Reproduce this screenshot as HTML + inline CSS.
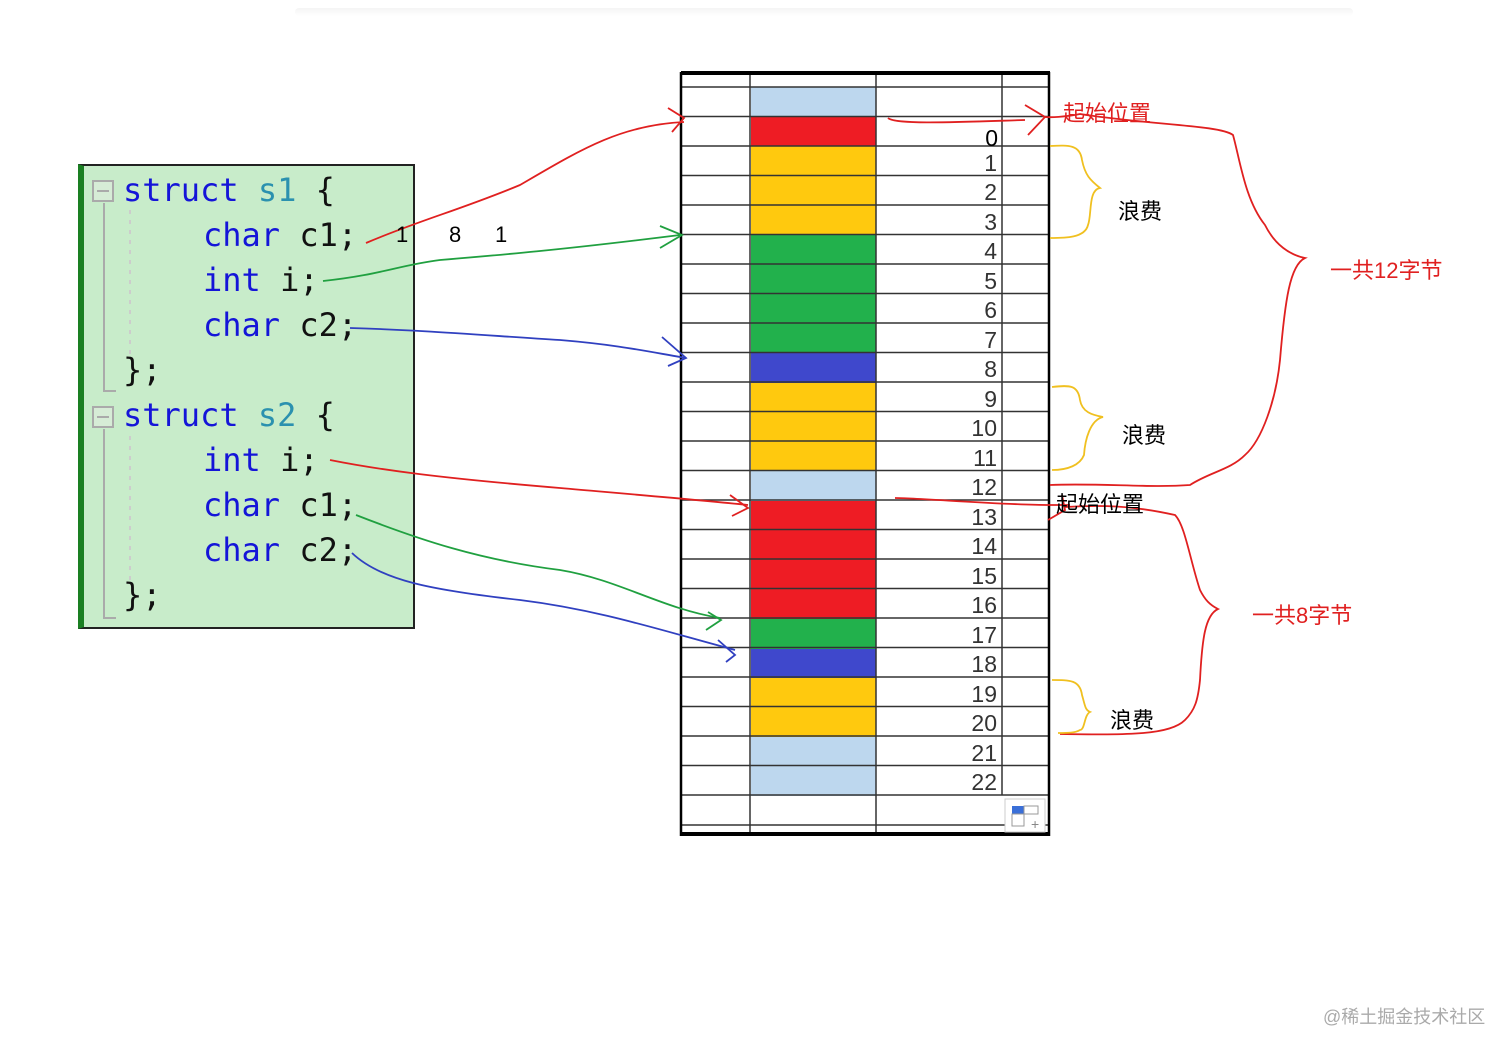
<!DOCTYPE html>
<html><head><meta charset="utf-8"><style>
body{margin:0;width:1512px;height:1052px;background:#fff;position:relative;overflow:hidden;font-family:"Liberation Sans","Noto Sans CJK SC",sans-serif}
.code{position:absolute;left:78px;top:164px;width:329px;height:461px;background:#c8ecca;border:2px solid #222;border-left:6px solid #1a7f22}
.ln{position:absolute;font-family:"DejaVu Sans Mono","Liberation Mono",monospace;font-size:32px;line-height:40px;color:#111;white-space:pre}
.k{color:#1515d8}.t{color:#2b91af}
</style></head><body>
<div style="position:absolute;left:295px;top:8px;width:1058px;height:8px;background:linear-gradient(#f4f4f4,#fff);border-radius:4px"></div>
<div class="code"></div>
<svg width="1512" height="1052" style="position:absolute;left:0;top:0">
<g fill="none" stroke="#aaa" stroke-width="2">
<rect x="93" y="181" width="20" height="20" fill="#d6ecd6"/><line x1="97" y1="191" x2="109" y2="191"/>
<rect x="93" y="407" width="20" height="20" fill="#d6ecd6"/><line x1="97" y1="417" x2="109" y2="417"/>
<polyline points="104,203 104,391 116,391"/><polyline points="104,429 104,618 116,618"/>
<line x1="130" y1="210" x2="130" y2="355" stroke="#ccc" stroke-dasharray="4,6"/>
<line x1="130" y1="436" x2="130" y2="580" stroke="#ccc" stroke-dasharray="4,6"/>
</g>
<g>
<rect x="751" y="87" width="125" height="29.5" fill="#bdd7ee"/>
<rect x="751" y="116" width="125" height="30" fill="#ee1c24"/>
<rect x="751" y="146" width="125" height="89" fill="#ffc90e"/>
<rect x="751" y="235" width="125" height="118" fill="#22b14c"/>
<rect x="751" y="353" width="125" height="30" fill="#3f48cc"/>
<rect x="751" y="383" width="125" height="88" fill="#ffc90e"/>
<rect x="751" y="471" width="125" height="30" fill="#bdd7ee"/>
<rect x="751" y="501" width="125" height="118" fill="#ee1c24"/>
<rect x="751" y="619" width="125" height="30" fill="#22b14c"/>
<rect x="751" y="649" width="125" height="29" fill="#3f48cc"/>
<rect x="751" y="678" width="125" height="59" fill="#ffc90e"/>
<rect x="751" y="737" width="125" height="59" fill="#bdd7ee"/>
</g>
<g stroke="#333" stroke-width="1.5">
<line x1="681" y1="87" x2="1049" y2="87"/>
<line x1="681" y1="116.5" x2="1049" y2="116.5"/><line x1="681" y1="146" x2="1049" y2="146"/><line x1="681" y1="175.5" x2="1049" y2="175.5"/><line x1="681" y1="205" x2="1049" y2="205"/><line x1="681" y1="234.5" x2="1049" y2="234.5"/><line x1="681" y1="264" x2="1049" y2="264"/><line x1="681" y1="293.5" x2="1049" y2="293.5"/><line x1="681" y1="323" x2="1049" y2="323"/><line x1="681" y1="352.5" x2="1049" y2="352.5"/><line x1="681" y1="382" x2="1049" y2="382"/><line x1="681" y1="411.5" x2="1049" y2="411.5"/><line x1="681" y1="441" x2="1049" y2="441"/><line x1="681" y1="470.5" x2="1049" y2="470.5"/><line x1="681" y1="500" x2="1049" y2="500"/><line x1="681" y1="529.5" x2="1049" y2="529.5"/><line x1="681" y1="559" x2="1049" y2="559"/><line x1="681" y1="588.5" x2="1049" y2="588.5"/><line x1="681" y1="618" x2="1049" y2="618"/><line x1="681" y1="647.5" x2="1049" y2="647.5"/><line x1="681" y1="677" x2="1049" y2="677"/><line x1="681" y1="706.5" x2="1049" y2="706.5"/><line x1="681" y1="736" x2="1049" y2="736"/><line x1="681" y1="765.5" x2="1049" y2="765.5"/><line x1="681" y1="795" x2="1049" y2="795"/><line x1="681" y1="825" x2="1049" y2="825"/>
<line x1="750" y1="72" x2="750" y2="834"/><line x1="876" y1="72" x2="876" y2="834"/><line x1="1002" y1="72" x2="1002" y2="795"/>
</g>
<line x1="681" y1="73" x2="1050" y2="73" stroke="#000" stroke-width="4"/>
<line x1="681" y1="834" x2="1050" y2="834" stroke="#000" stroke-width="4"/>
<line x1="681" y1="72" x2="681" y2="836" stroke="#000" stroke-width="2.5"/>
<line x1="1049" y1="72" x2="1049" y2="836" stroke="#000" stroke-width="2.5"/>
<rect x="1005" y="799" width="40" height="33" fill="#fff" stroke="#ccc"/>
<rect x="1012" y="806" width="12" height="8" fill="#3a6fd8"/><rect x="1024" y="806" width="14" height="8" fill="none" stroke="#999"/>
<rect x="1012" y="814" width="12" height="12" fill="none" stroke="#999"/>
<text x="1031" y="829" font-size="14" fill="#888">+</text>
<g font-family="Liberation Sans" font-size="23" fill="#333" text-anchor="end">
<text x="998" y="146" fill="#000">0</text><text x="997" y="171">1</text><text x="997" y="200">2</text><text x="997" y="230">3</text><text x="997" y="259">4</text><text x="997" y="289">5</text><text x="997" y="318">6</text><text x="997" y="348">7</text><text x="997" y="377">8</text><text x="997" y="407">9</text><text x="997" y="436">10</text><text x="997" y="466">11</text><text x="997" y="495">12</text><text x="997" y="525">13</text><text x="997" y="554">14</text><text x="997" y="584">15</text><text x="997" y="613">16</text><text x="997" y="643">17</text><text x="997" y="672">18</text><text x="997" y="702">19</text><text x="997" y="731">20</text><text x="997" y="761">21</text><text x="997" y="790">22</text>
</g>
<g fill="none" stroke-width="1.8">
<path d="M366,243 C420,220 460,210 520,185 C580,150 620,125 684,122" stroke="#e02020"/>
<path d="M668,108 L684,118 L672,132" stroke="#e02020"/>
<path d="M323,281 C380,275 400,265 440,260 C500,255 560,250 680,235" stroke="#20a040"/>
<path d="M660,226 L682,235 L660,248" stroke="#20a040"/>
<path d="M350,328 C420,330 480,335 560,340 C620,345 650,352 686,358" stroke="#3040c0"/>
<path d="M662,337 L686,358 L668,366" stroke="#3040c0"/>
<path d="M330,460 C380,470 440,478 560,488 C640,495 700,500 748,505" stroke="#e02020"/>
<path d="M730,495 L748,508 L732,516" stroke="#e02020"/>
<path d="M356,515 C420,540 480,560 560,570 C620,580 660,608 720,618" stroke="#20a040"/>
<path d="M708,612 L721,620 L706,630" stroke="#20a040"/>
<path d="M352,553 C380,580 430,590 520,600 C600,610 660,630 735,650" stroke="#3040c0"/>
<path d="M718,640 L735,655 L726,662" stroke="#3040c0"/>
<path d="M888,118 C895,125 960,122 1025,120" stroke="#e02020"/>
<path d="M1025,105 L1045,117 L1028,135" stroke="#e02020"/>
<path d="M1045,117 C1060,118 1080,114 1080,114 C1150,125 1220,125 1233,135 C1240,160 1245,200 1265,225 C1275,245 1290,255 1305,258 C1290,265 1285,300 1280,360 C1276,400 1262,440 1245,455 C1230,470 1210,472 1190,485 C1150,488 1100,483 1050,485" stroke="#e02020"/>
<path d="M1050,146 C1070,145 1080,145 1082,160 C1085,175 1090,180 1100,188 C1088,190 1092,215 1088,225 C1085,238 1065,238 1050,238" stroke="#f0c020"/>
<path d="M1052,387 C1070,385 1078,385 1080,400 C1082,412 1092,415 1103,417 C1090,420 1085,440 1084,455 C1080,465 1068,470 1052,470" stroke="#f0c020"/>
<path d="M895,498 C920,498 1000,505 1050,505 L1070,505" stroke="#e02020"/>
<path d="M1062,495 L1065,510 L1048,520" stroke="#e02020"/>
<path d="M1065,507 C1100,505 1130,505 1175,515 C1185,525 1190,560 1200,590 C1205,600 1210,605 1218,609 C1205,615 1202,640 1200,680 C1198,700 1195,710 1185,720 C1170,735 1130,735 1060,734" stroke="#e02020"/>
<path d="M1052,680 C1070,680 1080,680 1082,695 C1085,705 1085,710 1090,712 C1084,715 1085,730 1080,730 C1075,733 1068,733 1058,733" stroke="#f0c020"/>
</g>
</svg>
<div class="ln" style="left:123px;top:170px"><span class="k">struct</span> <span class="t">s1</span> {</div>
<div class="ln" style="left:203px;top:215px"><span class="k">char</span> c1;</div>
<div class="ln" style="left:203px;top:260px"><span class="k">int</span> i;</div>
<div class="ln" style="left:203px;top:305px"><span class="k">char</span> c2;</div>
<div class="ln" style="left:123px;top:350px">};</div>
<div class="ln" style="left:123px;top:395px"><span class="k">struct</span> <span class="t">s2</span> {</div>
<div class="ln" style="left:203px;top:440px"><span class="k">int</span> i;</div>
<div class="ln" style="left:203px;top:485px"><span class="k">char</span> c1;</div>
<div class="ln" style="left:203px;top:530px"><span class="k">char</span> c2;</div>
<div class="ln" style="left:123px;top:575px">};</div>
<div style="position:absolute;left:396px;top:222px;font-size:22px">1</div>
<div style="position:absolute;left:449px;top:222px;font-size:22px">8</div>
<div style="position:absolute;left:495px;top:222px;font-size:22px">1</div>
<div style="position:absolute;left:1063px;top:96px;font-size:22px;color:#e02020">起始位置</div>
<div style="position:absolute;left:1118px;top:194px;font-size:22px">浪费</div>
<div style="position:absolute;left:1122px;top:418px;font-size:22px">浪费</div>
<div style="position:absolute;left:1110px;top:703px;font-size:22px">浪费</div>
<div style="position:absolute;left:1056px;top:487px;font-size:22px">起始位置</div>
<div style="position:absolute;left:1330px;top:253px;font-size:22px;color:#e02020">一共12字节</div>
<div style="position:absolute;left:1252px;top:598px;font-size:22px;color:#e02020">一共8字节</div>
<div style="position:absolute;left:1323px;top:1003px;font-size:18px;color:#aaa">@稀土掘金技术社区</div>
</body></html>
